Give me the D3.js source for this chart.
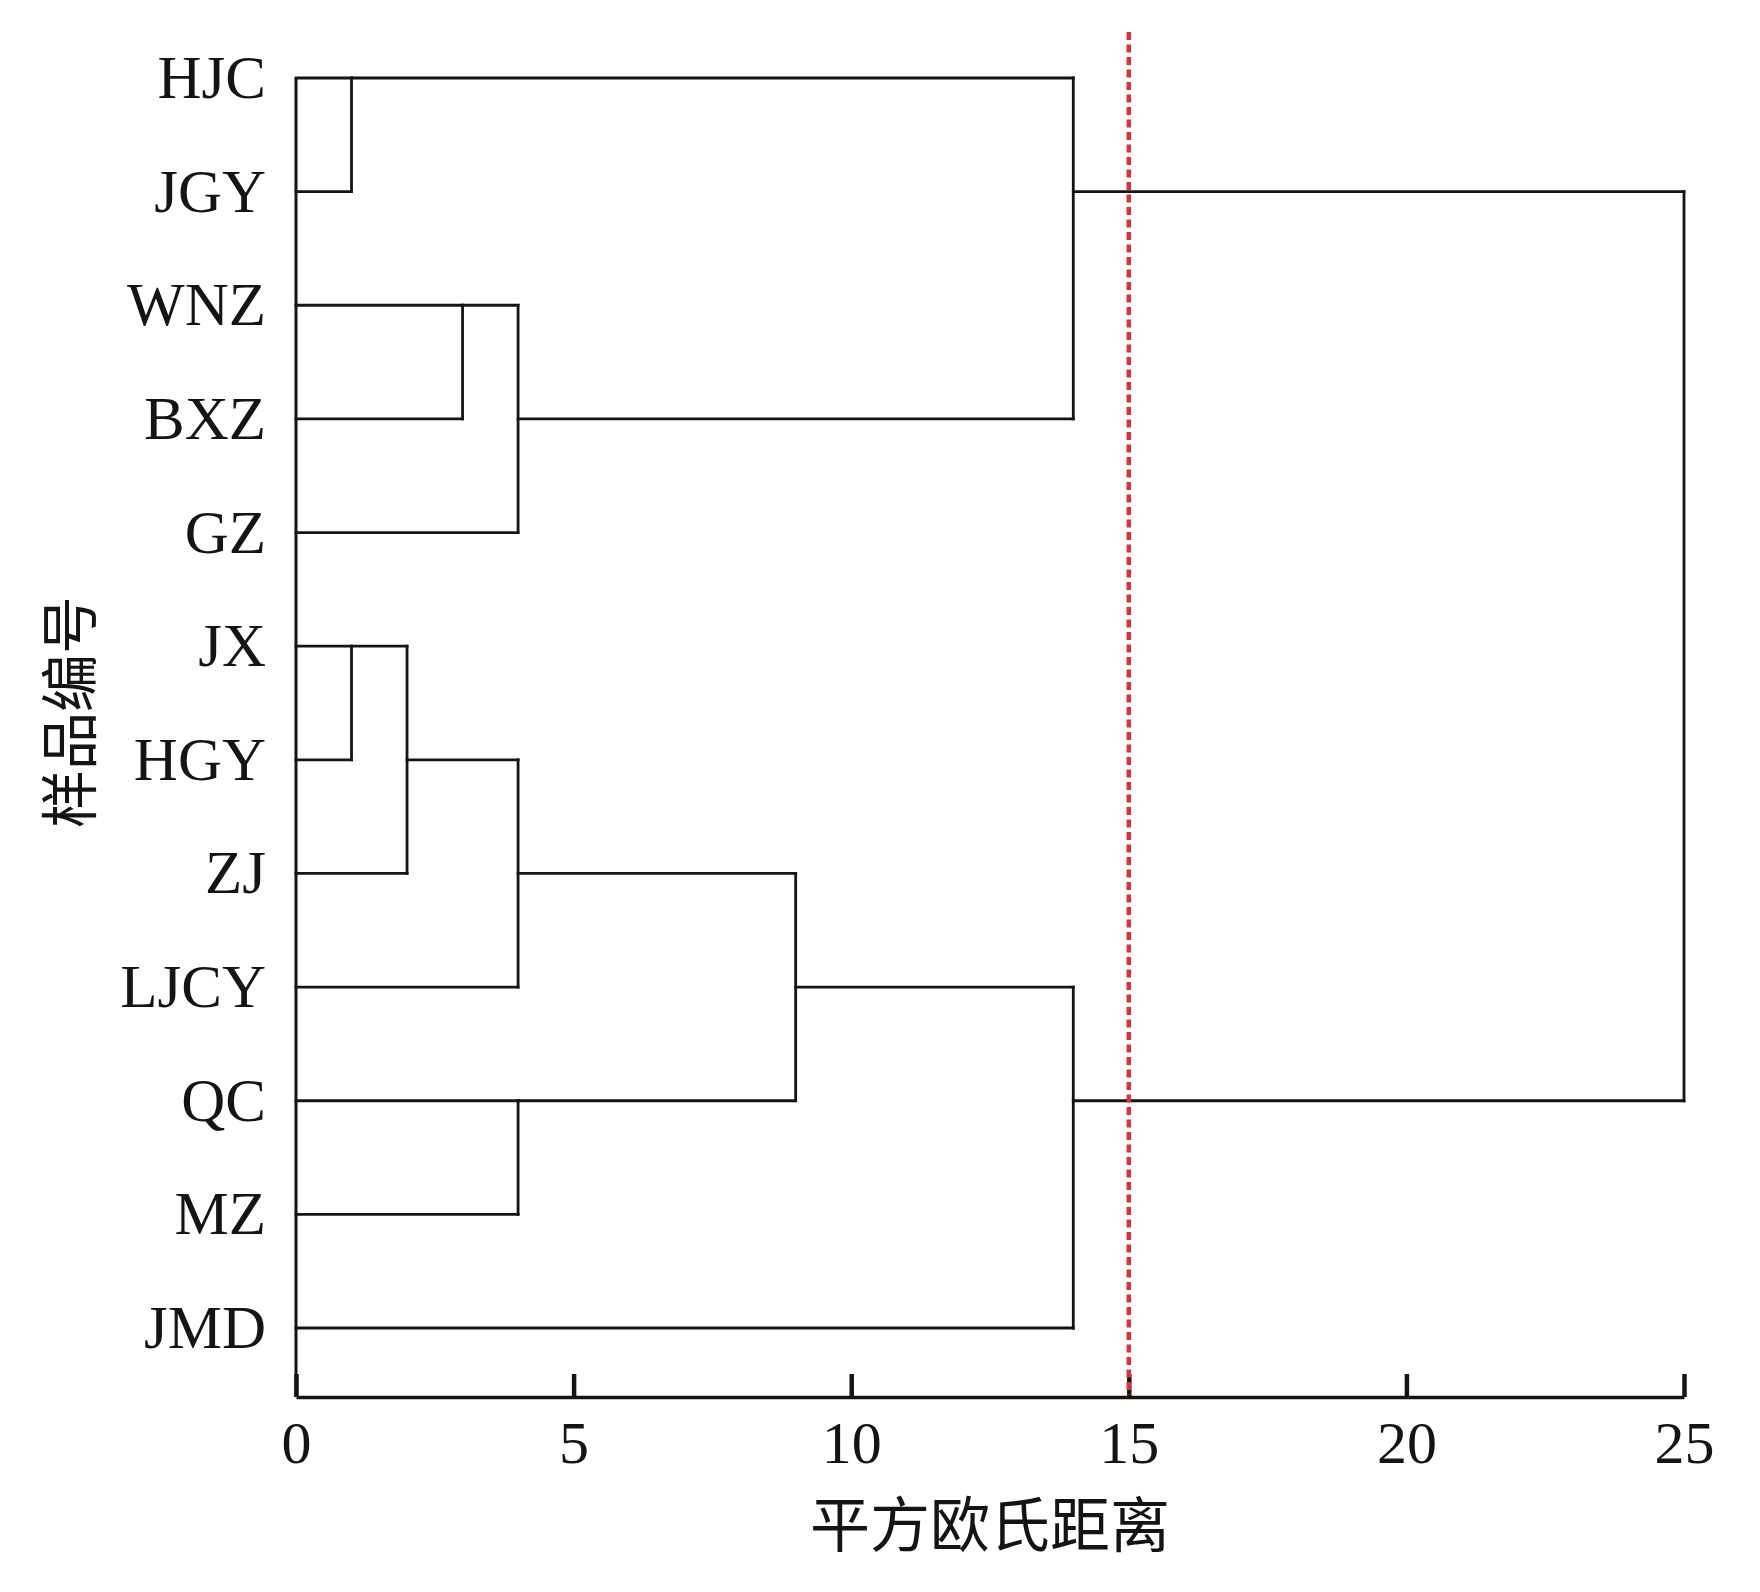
<!DOCTYPE html>
<html>
<head>
<meta charset="utf-8">
<script src="https://cdn.jsdelivr.net/npm/d3@7"></script>
<style>
  body { margin: 0; background: #fff; }
</style>
</head>
<body>
<svg id="chart"></svg>
<script>
// samples in dendrogram order (top to bottom)
const leaves = ["HJC", "JGY", "WNZ", "BXZ", "GZ", "JX", "HGY", "ZJ", "LJCY", "QC", "MZ", "JMD"]
// merge steps: node Ni joins clusterA[i] and clusterB[i] at mergeDistance[i]
const clusterA = ["HJC", "WNZ", "N1", "N0", "JX", "N4", "N5", "QC", "N6", "N8", "N3"]
const clusterB = ["JGY", "BXZ", "GZ", "N2", "HGY", "ZJ", "LJCY", "MZ", "N7", "JMD", "N9"]
const mergeDistance = [1, 3, 4, 14, 1, 2, 4, 4, 9, 14, 25]
const xTicks = [0, 5, 10, 15, 20, 25]
const cutDistance = 15

const width = 1760, height = 1592
const axisY = 1397
const serif = "'Liberation Serif', 'Times New Roman', serif"
const cjk = "'Noto Sans CJK SC', sans-serif"

const svg = d3.select("svg#chart")
    .attr("width", width)
    .attr("height", height)
    .style("background-color", "#fff")

const x = d3.scaleLinear().domain([0, 25]).range([296, 1684])
const y = d3.scalePoint().domain(leaves).range([78, 1328])

// row and height for each leaf / node (SPSS style: node sits on the row at the floor of its children's mid row)
const nodeRow = {}, nodeHeight = {}
leaves.forEach((d, i) => { nodeRow[d] = i; nodeHeight[d] = 0 })
const links = []
for (let i = 0; i < mergeDistance.length; i++) {
    const a = clusterA[i], b = clusterB[i], h = mergeDistance[i]
    const id = `N${i}`
    nodeRow[id] = Math.floor((nodeRow[a] + nodeRow[b]) / 2)
    nodeHeight[id] = h
    // vertical joining the two children
    links.push({ x1: h, x2: h, r1: nodeRow[a], r2: nodeRow[b] })
    // horizontals from each child up to this merge
    links.push({ x1: nodeHeight[a], x2: h, r1: nodeRow[a], r2: nodeRow[a] })
    links.push({ x1: nodeHeight[b], x2: h, r1: nodeRow[b], r2: nodeRow[b] })
}

const rowY = r => y(leaves[r])

svg.append("g").attr("id", "links")
    .selectAll("line")
    .data(links)
    .join("line")
    .attr("x1", d => x(d.x1)).attr("x2", d => x(d.x2))
    .attr("y1", d => rowY(d.r1)).attr("y2", d => rowY(d.r2))
    .style("stroke", "#161412")
    .style("stroke-width", 2.8)
    .style("stroke-linecap", "square")

// left spine from the first sample down to the axis
svg.append("line")
    .attr("x1", x(0)).attr("x2", x(0))
    .attr("y1", y(leaves[0])).attr("y2", axisY)
    .style("stroke", "#161412")
    .style("stroke-width", 3)

// x axis with inward ticks
const xAxis = svg.append("g")
    .attr("transform", `translate(0,${axisY})`)
    .call(d3.axisBottom(x).tickValues(xTicks).tickSizeInner(-23).tickSizeOuter(0))
xAxis.select(".domain").style("stroke", "#161412").style("stroke-width", 3.5)
xAxis.selectAll(".tick line").style("stroke", "#161412").style("stroke-width", 4.5)
xAxis.selectAll(".tick text")
    .attr("y", 66).attr("dy", null)
    .style("font-family", serif)
    .style("font-size", "60px")
    .style("fill", "#161412")
xAxis.attr("font-size", null).attr("font-family", null)

// sample labels
svg.append("g").attr("id", "leafLabels")
    .selectAll("text")
    .data(leaves)
    .join("text")
    .attr("x", 266)
    .attr("y", d => y(d) + 20)
    .attr("text-anchor", "end")
    .style("font-family", serif)
    .style("font-size", "61px")
    .style("fill", "#161412")
    .text(d => d)

// cut line
svg.append("line")
    .attr("x1", x(cutDistance)).attr("x2", x(cutDistance))
    .attr("y1", 32).attr("y2", axisY - 2)
    .style("stroke", "#d8323b")
    .style("stroke-width", 4.5)
    .style("stroke-dasharray", "8 4.5")

// axis titles
svg.append("text")
    .attr("x", (x(0) + x(25)) / 2)
    .attr("y", 1520)
    .attr("text-anchor", "middle")
    .attr("dominant-baseline", "central")
    .style("font-family", cjk)
    .style("font-size", "60px")
    .style("fill", "#161412")
    .text("平方欧氏距离")

svg.append("text")
    .attr("transform", "translate(66,712) rotate(-90)")
    .attr("text-anchor", "middle")
    .attr("dominant-baseline", "central")
    .style("font-family", cjk)
    .style("font-size", "58px")
    .style("fill", "#161412")
    .text("样品编号")
</script>
</body>
</html>
